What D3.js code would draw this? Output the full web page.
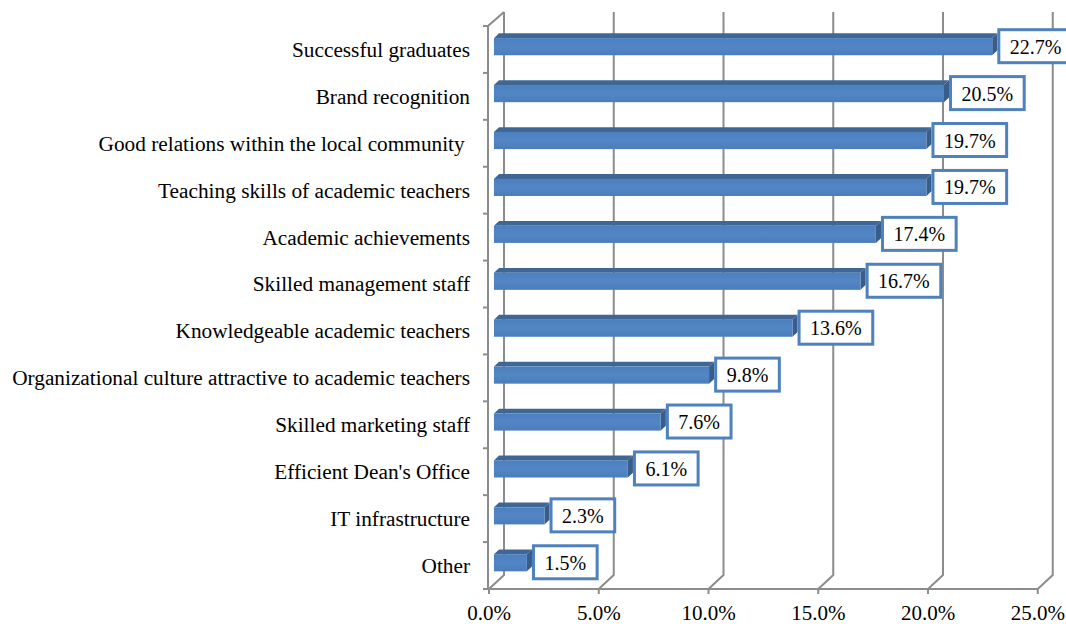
<!DOCTYPE html>
<html><head><meta charset="utf-8">
<script src="https://cdn.jsdelivr.net/npm/d3@7"></script>
<style>
html,body{margin:0;padding:0;background:#fff;}
svg{display:block;}
</style></head>
<body>
<svg id="chart" width="1066" height="624"></svg>
<script>
const categories = [
  "Successful graduates",
  "Brand recognition",
  "Good relations within the local community ",
  "Teaching skills of academic teachers",
  "Academic achievements",
  "Skilled management staff",
  "Knowledgeable academic teachers",
  "Organizational culture attractive to academic teachers",
  "Skilled marketing staff",
  "Efficient Dean's Office",
  "IT infrastructure",
  "Other"
];
const values = [22.7, 20.5, 19.7, 19.7, 17.4, 16.7, 13.6, 9.8, 7.6, 6.1, 2.3, 1.5];
const tickValues = [0, 5, 10, 15, 20, 25];

const svg = d3.select("#chart");
const FONT = "'Liberation Serif','Times New Roman',serif";
const gridColor = "#8c8c8c";
const DX = 15, DY = -14;           // depth projection
const frontTop = 26, frontBottom = 589;

const x = d3.scaleLinear().domain([0, 25]).range([489, 1037.75]);
const y = d3.scaleBand().domain(categories).range([frontTop, frontBottom]);
const bw = y.bandwidth();

// back wall gridlines with floor connectors
const g = svg.append("g");
tickValues.forEach(t => {
  g.append("path")
    .attr("d", `M${x(t)+DX},${frontTop+DY} L${x(t)+DX},${frontBottom+DY} L${x(t)},${frontBottom}`)
    .attr("fill", "none").attr("stroke", gridColor).attr("stroke-width", 2);
});
// left axis with top connector
g.append("path")
  .attr("d", `M${x(0)+DX},${frontTop+DY} L${x(0)-1},${frontTop} L${x(0)-1},${frontBottom}`)
  .attr("fill", "none").attr("stroke", gridColor).attr("stroke-width", 2);
// bottom axis
g.append("line").attr("x1", x(0)-1).attr("x2", x(25)).attr("y1", frontBottom).attr("y2", frontBottom)
  .attr("stroke", gridColor).attr("stroke-width", 2);
tickValues.forEach(t => {
  g.append("line").attr("x1", x(t)).attr("x2", x(t)).attr("y1", frontBottom).attr("y2", frontBottom+5)
    .attr("stroke", gridColor).attr("stroke-width", 2);
});
// left ticks at band boundaries
const bounds = categories.map(c => y(c)).concat([frontBottom]);
bounds.forEach(b => {
  g.append("line").attr("x1", x(0)-6).attr("x2", x(0)-1).attr("y1", b).attr("y2", b)
    .attr("stroke", gridColor).attr("stroke-width", 2);
});

// x tick labels
svg.append("g").selectAll("text").data(tickValues).join("text")
  .attr("x", d => x(d)).attr("y", 620)
  .attr("text-anchor", "middle")
  .attr("font-family", FONT).attr("font-size", 21).attr("fill", "#000")
  .text(d => d.toFixed(1) + "%");

// category labels
svg.append("g").selectAll("text").data(categories).join("text")
  .attr("x", 470).attr("y", d => y(d) + bw/2)
  .attr("dy", "0.35em")
  .attr("text-anchor", "end")
  .attr("xml:space", "preserve")
  .style("white-space", "pre")
  .attr("font-family", FONT).attr("font-size", 21.3).attr("fill", "#000")
  .text(d => d);

// gradient for bar front
const defs = svg.append("defs");
const grad = defs.append("linearGradient").attr("id", "barGrad").attr("x1", 0).attr("y1", 0).attr("x2", 0).attr("y2", 1);
grad.append("stop").attr("offset", "0%").attr("stop-color", "#4c7fbd");
grad.append("stop").attr("offset", "50%").attr("stop-color", "#5386c5");
grad.append("stop").attr("offset", "100%").attr("stop-color", "#4b7dba");

// bars (3D)
const zf = 0.33, zb = 0.67;
const fdx = DX*zf, fdy = DY*zf, bdx = DX*zb, bdy = DY*zb;
const bars = svg.append("g").selectAll("g").data(categories.map((c,i)=>({c, v: values[i]}))).join("g");
bars.each(function(d){
  const gg = d3.select(this);
  const x0 = x(0) + fdx, x1 = x(d.v) + fdx;
  const yt = y(d.c) + bw*0.357 + fdy + 0, yb = yt + bw*0.365;
  const ddx = bdx - fdx, ddy = bdy - fdy;
  // top face
  gg.append("path").attr("d", `M${x0},${yt} L${x0+ddx},${yt+ddy} L${x1+ddx},${yt+ddy} L${x1},${yt} Z`)
    .attr("fill", "#3f6796");
  // end face
  gg.append("path").attr("d", `M${x1},${yt} L${x1+ddx},${yt+ddy} L${x1+ddx},${yb+ddy} L${x1},${yb} Z`)
    .attr("fill", "#385d8a");
  // front face
  gg.append("rect").attr("x", x0).attr("y", yt).attr("width", x1-x0).attr("height", yb-yt)
    .attr("fill", "url(#barGrad)");
  d.cy = (yt+yb)/2;
  d.lx = x(d.v) + bdx + 1.5;
});

// data labels
bars.each(function(d){
  const gg = d3.select(this);
  const txt = d.v.toFixed(1) + "%";
  const t = gg.append("text").attr("font-family", FONT).attr("font-size", 20).attr("fill", "#000")
    .attr("text-anchor", "middle").attr("dy", "0.35em").text(txt);
  const w = t.node().getComputedTextLength() + 22;
  const h = 33;
  gg.insert("rect", "text").attr("x", d.lx).attr("y", d.cy - h/2 - 0.5).attr("width", w).attr("height", h)
    .attr("fill", "#fff").attr("stroke", "#4f81bd").attr("stroke-width", 3);
  t.attr("x", d.lx + w/2).attr("y", d.cy);
});
</script>
</body></html>
